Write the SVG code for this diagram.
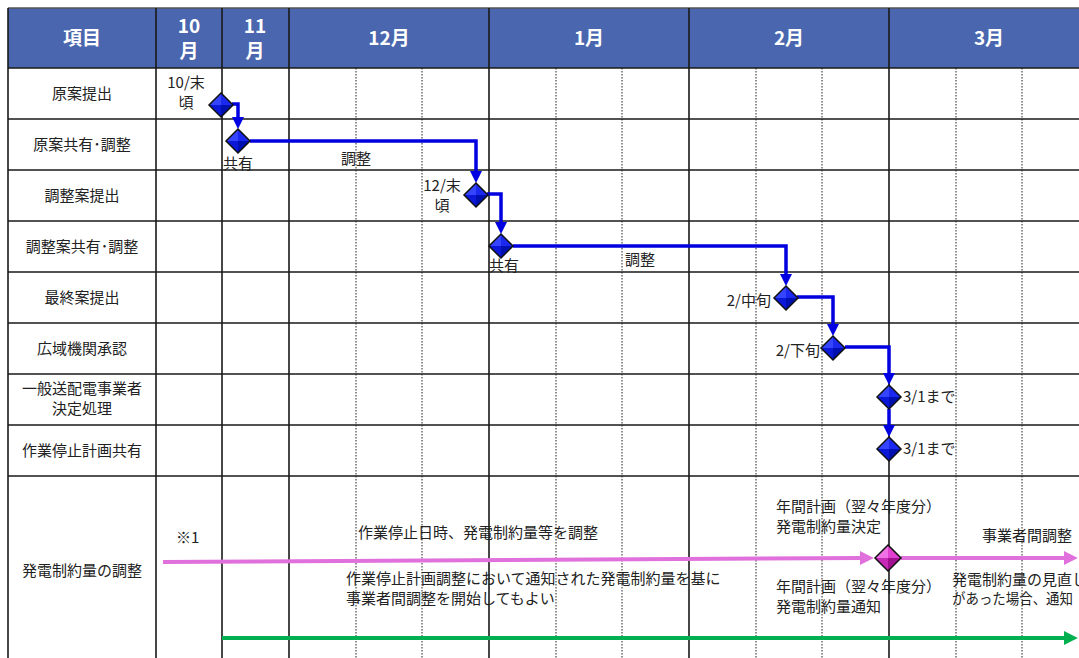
<svg xmlns="http://www.w3.org/2000/svg" xmlns:xlink="http://www.w3.org/1999/xlink" width="1079" height="658" viewBox="0 0 1079 658">
<style>
.t{font-family:"Noto Sans CJK JP","Liberation Sans",sans-serif;font-size:15px;fill:#222}
.c{text-anchor:middle}
.e{text-anchor:end}
.h{font-family:"Noto Sans CJK JP","Liberation Sans",sans-serif;font-size:19px;font-weight:bold;fill:#fff;text-anchor:middle}
.g{stroke:#1a1a1a;stroke-width:1.6;fill:none}
.d{stroke:#222;stroke-width:1;stroke-dasharray:1.5 1.5;fill:none}
.cb{stroke:#0000E0;stroke-width:3.5;fill:none;marker-end:url(#ab)}
</style>
<defs>
<marker id="ab" markerUnits="userSpaceOnUse" markerWidth="12" markerHeight="12" viewBox="0 0 12 12" refX="1" refY="6" orient="auto"><path d="M0,0 L12,6 L0,12 z" fill="#0000E0"/></marker>
<marker id="ap" markerUnits="userSpaceOnUse" markerWidth="14" markerHeight="14" viewBox="0 0 12 12" refX="1" refY="6" orient="auto"><path d="M0,0 L12,6 L0,12 z" fill="#E070DC"/></marker>
<marker id="ag" markerUnits="userSpaceOnUse" markerWidth="14" markerHeight="14" viewBox="0 0 12 12" refX="1" refY="6" orient="auto"><path d="M0,0 L12,6 L0,12 z" fill="#00B050"/></marker>
<g id="dmB">
<polygon points="0,-12 -12,0 0,0" fill="#3444ff"/>
<polygon points="0,-12 12,0 0,0" fill="#1a28f0"/>
<polygon points="-12,0 0,12 0,0" fill="#0c18d8"/>
<polygon points="12,0 0,12 0,0" fill="#0010b0"/>
<polygon points="0,-12 12,0 0,12 -12,0" fill="none" stroke="#111" stroke-width="1.5"/>
</g>
<g id="dmP">
<polygon points="0,-13 -13,0 0,0" fill="#f070e6"/>
<polygon points="0,-13 13,0 0,0" fill="#e040d0"/>
<polygon points="-13,0 0,13 0,0" fill="#c82ab8"/>
<polygon points="13,0 0,13 0,0" fill="#a01090"/>
<polygon points="0,-13 13,0 0,13 -13,0" fill="none" stroke="#111" stroke-width="1.5"/>
</g>
</defs>
<rect width="1079" height="658" fill="#fff"/>
<g id="header">
<rect x="8" y="8" width="1071" height="60" fill="#4A66AE"/>
<line x1="8" y1="8" x2="1079" y2="8" stroke="#555" stroke-width="1.5"/>
<text class="h" x="82" y="45">項目</text>
<text class="h" x="189" y="33">10</text>
<text class="h" x="189" y="58">月</text>
<text class="h" x="255" y="33">11</text>
<text class="h" x="255" y="58">月</text>
<text class="h" x="389" y="45">12月</text>
<text class="h" x="589" y="45">1月</text>
<text class="h" x="789" y="45">2月</text>
<text class="h" x="989" y="45">3月</text>
</g>
<g id="grid">
<path class="d" d="M356,68V658M422,68V658M556,68V658M622,68V658M756,68V658M822,68V658M956,68V658M1022,68V658"/>
<path class="g" d="M8,8V658M156,8V658M222,8V658M289,8V658M489,8V658M689,8V658M889,8V658"/>
<path class="g" d="M8,68H1079M8,119H1079M8,170H1079M8,221H1079M8,272H1079M8,323H1079M8,374H1079M8,425H1079M8,476H1079"/>
</g>
<g id="rowlabels">
<text class="t c" x="82" y="99">原案提出</text>
<text class="t c" x="82" y="150">原案共有･調整</text>
<text class="t c" x="82" y="201">調整案提出</text>
<text class="t c" x="82" y="252">調整案共有･調整</text>
<text class="t c" x="82" y="303">最終案提出</text>
<text class="t c" x="82" y="354">広域機関承認</text>
<text class="t c" x="82" y="394">一般送配電事業者</text>
<text class="t c" x="82" y="414">決定処理</text>
<text class="t c" x="82" y="456">作業停止計画共有</text>
<text class="t c" x="82" y="576">発電制約量の調整</text>
</g>
<g id="connectors">
<path class="cb" d="M232,104H238V118"/>
<path class="cb" d="M250,141H476V172"/>
<path class="cb" d="M487,194H501V223"/>
<path class="cb" d="M513,246H786V275"/>
<path class="cb" d="M797,297H833V325"/>
<path class="cb" d="M845,347H889V374"/>
<path class="cb" d="M889,409V426"/>
<path d="M163,562L861,558" stroke="#E070DC" stroke-width="4" fill="none" marker-end="url(#ap)"/>
<path d="M901,558H1065" stroke="#E070DC" stroke-width="4" fill="none" marker-end="url(#ap)"/>
<path d="M222,638H1065" stroke="#00B050" stroke-width="4" fill="none" marker-end="url(#ag)"/>
</g>
<g id="n1"><use xlink:href="#dmB" href="#dmB" x="221" y="105"/><text class="t c" x="186" y="88">10/末</text><text class="t c" x="186" y="108">頃</text></g>
<g id="n2"><use xlink:href="#dmB" href="#dmB" x="238" y="141"/><text class="t c" x="238" y="169">共有</text><text class="t c" x="356" y="164">調整</text></g>
<g id="n3"><use xlink:href="#dmB" href="#dmB" x="476" y="195"/><text class="t c" x="442" y="191">12/末</text><text class="t c" x="442" y="211">頃</text></g>
<g id="n4"><use xlink:href="#dmB" href="#dmB" x="501" y="246"/><text class="t c" x="504" y="271">共有</text><text class="t c" x="640" y="265">調整</text></g>
<g id="n5"><use xlink:href="#dmB" href="#dmB" x="786" y="298"/><text class="t e" x="771" y="306">2/中旬</text></g>
<g id="n6"><text class="t e" x="820" y="356">2/下旬</text><use xlink:href="#dmB" href="#dmB" x="833" y="348"/></g>
<g id="n7"><use xlink:href="#dmB" href="#dmB" x="889" y="397"/><text class="t" x="903" y="402">3/1まで</text></g>
<g id="n8"><use xlink:href="#dmB" href="#dmB" x="889" y="449"/><text class="t" x="903" y="454">3/1まで</text></g>
<g id="n9"><use xlink:href="#dmP" href="#dmP" x="888" y="558"/>
<text class="t" x="776" y="512">年間計画（翌々年度分）</text>
<text class="t" x="776" y="532">発電制約量決定</text>
<text class="t" x="776" y="592">年間計画（翌々年度分）</text>
<text class="t" x="776" y="612">発電制約量通知</text>
</g>
<g id="notes">
<text class="t" x="176" y="543">※1</text>
<text class="t" x="358" y="538">作業停止日時、発電制約量等を調整</text>
<text class="t" x="346" y="584">作業停止計画調整において通知された発電制約量を基に</text>
<text class="t" x="346" y="604">事業者間調整を開始してもよい</text>
<text class="t" x="982" y="541">事業者間調整</text>
<text class="t" x="952" y="585">発電制約量の見直し</text>
<text class="t" x="952" y="604" textLength="121" lengthAdjust="spacingAndGlyphs">があった場合、通知</text>
</g>
</svg>
